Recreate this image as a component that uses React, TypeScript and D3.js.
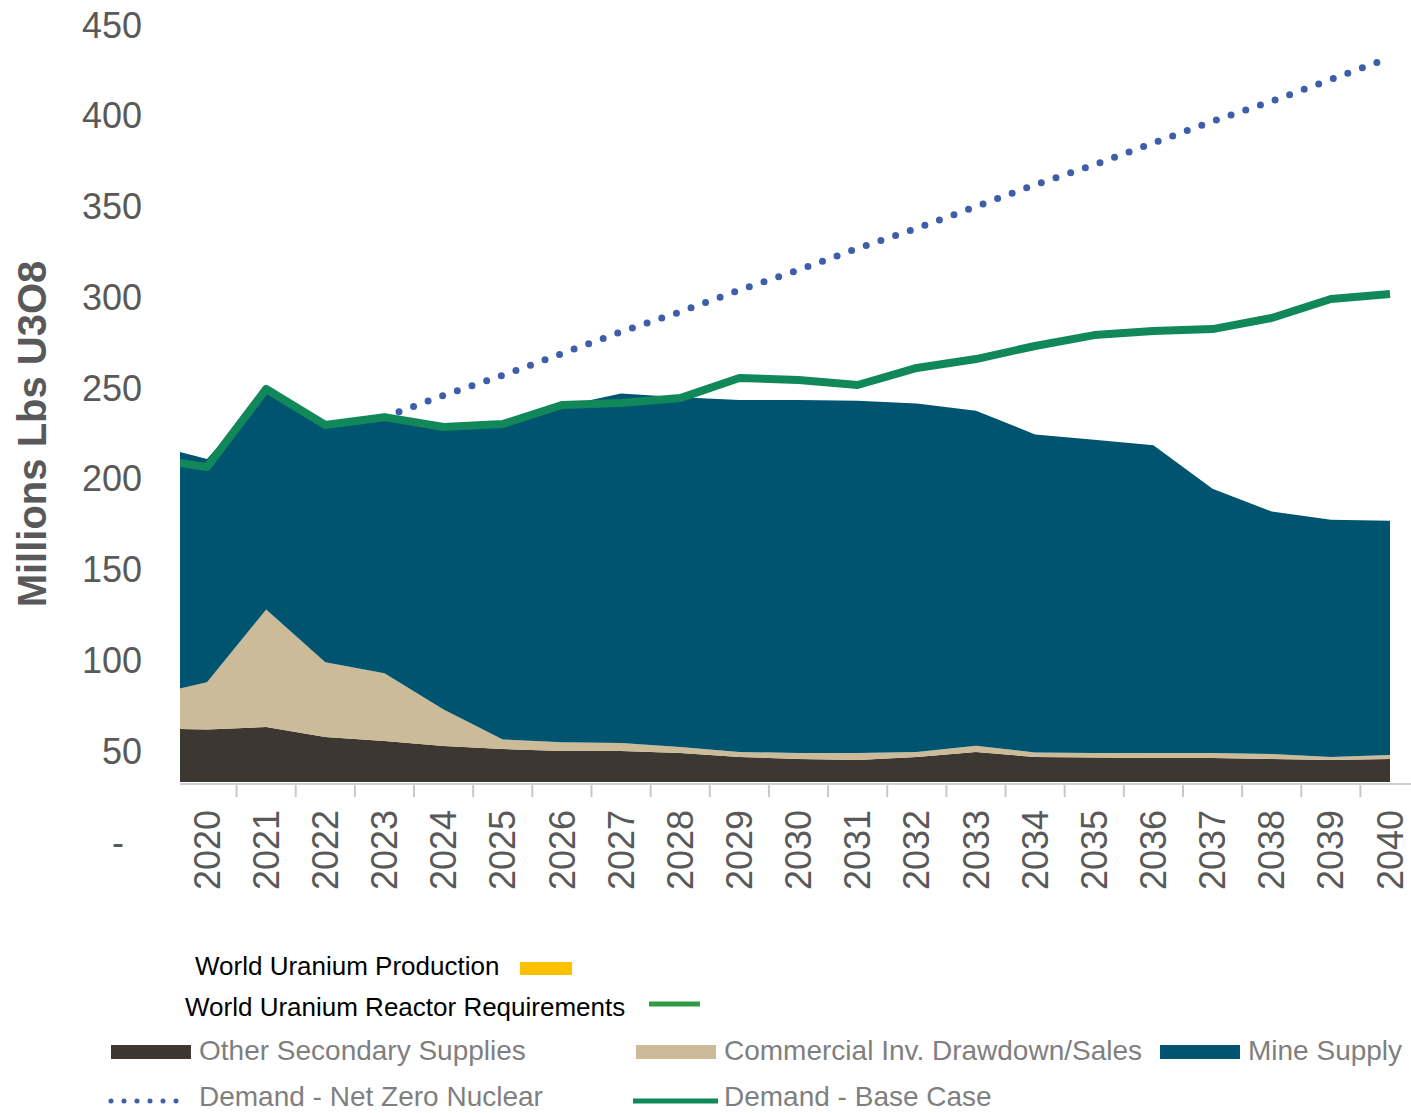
import React from "react";
import * as d3 from "d3";

// Years (2019 is only partially visible at the left edge of the plot)
const years = [2019, 2020, 2021, 2022, 2023, 2024, 2025, 2026, 2027, 2028, 2029, 2030, 2031, 2032, 2033, 2034, 2035, 2036, 2037, 2038, 2039, 2040];

// Stacked supply components (Millions lbs U3O8), stacked above the axis floor
const otherSecondary = [29.4, 29.0, 30.3, 24.8, 22.6, 19.9, 18.2, 17.1, 17.1, 16.0, 13.8, 12.7, 12.2, 13.8, 16.6, 13.8, 13.5, 13.3, 13.3, 12.7, 12.2, 12.7];
const commercialInv = [17.9, 26.0, 64.7, 41.2, 37.4, 20.1, 5.3, 4.9, 4.4, 3.3, 2.8, 3.3, 3.8, 2.8, 3.4, 2.5, 2.5, 2.7, 2.7, 2.8, 1.6, 2.2];
const mineSupply = [139.0, 123.0, 120.0, 130.0, 140.0, 154.5, 172.5, 185.0, 192.5, 192.7, 193.9, 194.5, 194.0, 191.9, 184.5, 175.2, 172.5, 169.5, 145.5, 133.5, 130.7, 129.1];

// Demand lines
const demandBase = [211.4, 206.5, 249.5, 229.7, 234.0, 228.6, 230.2, 240.7, 241.8, 244.5, 255.6, 254.5, 251.7, 261.1, 266.0, 273.2, 279.2, 281.4, 282.5, 288.6, 299.1, 301.8];
const demandNetZero = [null, null, null, null, 234, 246, 257, 269, 281, 292, 304, 315, 327, 338, 350, 362, 373, 385, 397, 408, 420, 432];

// Axis
const axisFloor = 33;
const yTicks = [0, 50, 100, 150, 200, 250, 300, 350, 400, 450];
const labelYears = [2020, 2021, 2022, 2023, 2024, 2025, 2026, 2027, 2028, 2029, 2030, 2031, 2032, 2033, 2034, 2035, 2036, 2037, 2038, 2039, 2040];

const COLORS = {
  other: "#3d3732",
  commercial: "#cbbb98",
  mine: "#005470",
  base: "#11885a",
  netZero: "#3f5eaa",
  production: "#ffc000",
  reactor: "#2e9b45",
};

const FONT = "'Liberation Sans', Arial, Helvetica, sans-serif";

export default function App() {
  const W = 1411;
  const H = 1113;
  const plotLeft = 180;
  const plotRight = 1411;

  const x = d3.scaleLinear().domain([2020, 2040]).range([207, 1390]);
  const y = d3.scaleLinear().domain([0, 450]).range([842, 25]);
  const axisY = y(axisFloor);

  const rows = years.map((yr, i) => ({
    year: yr,
    other: otherSecondary[i],
    commercial: commercialInv[i],
    mine: mineSupply[i],
  }));
  const stack = d3.stack<any>().keys(["other", "commercial", "mine"]);
  const series = stack(rows);

  const area = d3
    .area<any>()
    .x((d) => x(d.data.year))
    .y0((d) => y(axisFloor + d[0]))
    .y1((d) => y(axisFloor + d[1]));

  const line = d3
    .line<any>()
    .defined((d) => d[1] != null)
    .x((d) => x(d[0]))
    .y((d) => y(d[1]));

  const basePts = years.map((yr, i) => [yr, demandBase[i]]);
  const nzPts = years.map((yr, i) => [yr, demandNetZero[i]]);

  const colorFor: Record<string, string> = {
    other: COLORS.other,
    commercial: COLORS.commercial,
    mine: COLORS.mine,
  };

  const tickYears = d3.range(2020.5, 2040, 1);

  return (
    <div>
      <style>{`body{margin:0;background:#fff}`}</style>
      <svg width={W} height={H} viewBox={`0 0 ${W} ${H}`} style={{ display: "block", fontFamily: FONT }}>
        <defs>
          <clipPath id="plotClip">
            <rect x={plotLeft} y={0} width={plotRight - plotLeft} height={axisY} />
          </clipPath>
        </defs>
        <rect x={0} y={0} width={W} height={H} fill="#fff" />

        {/* Y axis title */}
        <text
          transform={`translate(32,434) rotate(-90)`}
          textAnchor="middle"
          dy="0.35em"
          fontSize={40}
          fontWeight="bold"
          fill="#595959"
        >
          Millions Lbs U3O8
        </text>

        {/* Y tick labels */}
        {yTicks.map((t) => (
          <text key={t} x={t === 0 ? 124 : 142} y={y(t)} dy="0.35em" textAnchor="end" fontSize={36} fill="#595959">
            {t === 0 ? "-" : String(t)}
          </text>
        ))}

        {/* Stacked areas */}
        <g clipPath="url(#plotClip)">
          {series.map((s) => (
            <path key={s.key} d={area(s) || ""} fill={colorFor[s.key]} />
          ))}
        </g>

        {/* Axis line and ticks */}
        <line x1={plotLeft} x2={plotRight} y1={axisY + 2} y2={axisY + 2} stroke="#d0d0d0" strokeWidth={2} />
        {tickYears.map((t) => (
          <line key={t} x1={x(t)} x2={x(t)} y1={axisY + 3} y2={axisY + 15} stroke="#c8c8c8" strokeWidth={2} />
        ))}

        {/* Demand lines */}
        <g clipPath="url(#plotClip)">
          <path
            d={line(nzPts as any) || ""}
            fill="none"
            stroke={COLORS.netZero}
            strokeWidth={7}
            strokeLinecap="round"
            strokeDasharray="0 15.5"
          />
          <path d={line(basePts as any) || ""} fill="none" stroke={COLORS.base} strokeWidth={8} strokeLinejoin="round" />
        </g>

        {/* X tick labels */}
        {labelYears.map((yr) => (
          <text
            key={yr}
            transform={`translate(${x(yr)},810) rotate(-90)`}
            dy="0.35em"
            textAnchor="end"
            fontSize={36}
            fill="#595959"
          >
            {String(yr)}
          </text>
        ))}

        {/* Legend */}
        <text x={195} y={975} fontSize={26} fill="#000">World Uranium Production</text>
        <rect x={520} y={962} width={52} height={13} fill={COLORS.production} />
        <text x={185} y={1016} fontSize={26} fill="#000">World Uranium Reactor Requirements</text>
        <line x1={649} x2={700} y1={1004} y2={1004} stroke={COLORS.reactor} strokeWidth={5} />

        <rect x={111} y={1045} width={80} height={14} fill={COLORS.other} />
        <text x={199} y={1060} fontSize={28} fill="#7f7f7f">Other Secondary Supplies</text>
        <rect x={636} y={1045} width={80} height={14} fill={COLORS.commercial} />
        <text x={724} y={1060} fontSize={28} fill="#7f7f7f">Commercial Inv. Drawdown/Sales</text>
        <rect x={1160} y={1045} width={80} height={14} fill={COLORS.mine} />
        <text x={1248} y={1060} fontSize={28} fill="#7f7f7f">Mine Supply</text>

        <line x1={111} x2={186} y1={1101} y2={1101} stroke={COLORS.netZero} strokeWidth={5} strokeLinecap="round" strokeDasharray="0 13" />
        <text x={199} y={1106} fontSize={28} fill="#7f7f7f">Demand - Net Zero Nuclear</text>
        <line x1={633} x2={718} y1={1101} y2={1101} stroke={COLORS.base} strokeWidth={5} />
        <text x={724} y={1106} fontSize={28} fill="#7f7f7f">Demand - Base Case</text>
      </svg>
    </div>
  );
}
